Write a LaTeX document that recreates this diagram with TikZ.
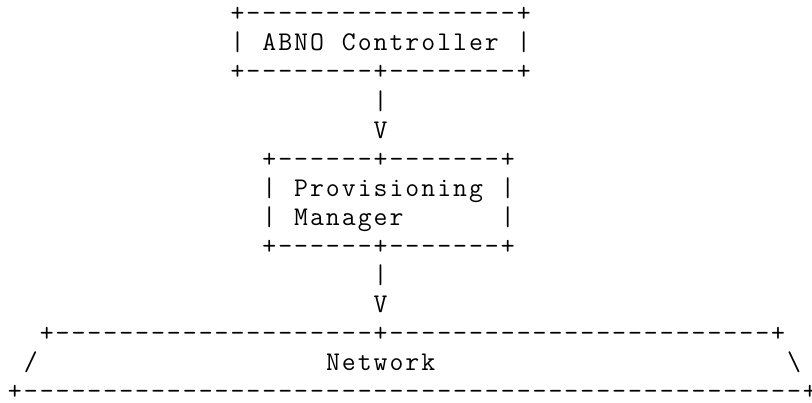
\documentclass[tikz,border=0pt]{standalone}
\usepackage{fontspec}
\makeatletter
\newcommand\ascrow[1]{\@tfor\asc@ch:=#1\do{\hbox to 15.9pt{\hss\asc@ch\hss}}}
\makeatother
\newcommand\ascpos[2]{({(7+#1*15.9)*1pt},{(381.2-#2*29.08)*1pt})}
\tikzset{
  asc/.style={inner sep=0pt, outer sep=0pt, anchor=base west, text=black,
    font=\ttfamily\fontsize{27pt}{29pt}\selectfont}
}
\begin{document}
\begin{tikzpicture}
\useasboundingbox (0pt,0pt) rectangle (812pt,403pt);
% ABNO Controller box
\node[asc] (abnoTop)    at \ascpos{14}{0} {\ascrow{+-----------------+}};
\node[asc] (abnoL)      at \ascpos{14}{1} {\ascrow{|}};
\node[asc] (abnoTextA)  at \ascpos{16}{1} {\ascrow{ABNO}};
\node[asc] (abnoTextB)  at \ascpos{21}{1} {\ascrow{Controller}};
\node[asc] (abnoR)      at \ascpos{32}{1} {\ascrow{|}};
\node[asc] (abnoBottom) at \ascpos{14}{2} {\ascrow{+--------+--------+}};
% arrow 1
\node[asc] (arrowOneBar)  at \ascpos{23}{3} {\ascrow{|}};
\node[asc] (arrowOneHead) at \ascpos{23}{4} {\ascrow{V}};
% Provisioning Manager box
\node[asc] (pmTop)      at \ascpos{16}{5} {\ascrow{+------+-------+}};
\node[asc] (pmLA)       at \ascpos{16}{6} {\ascrow{|}};
\node[asc] (pmTextA)    at \ascpos{18}{6} {\ascrow{Provisioning}};
\node[asc] (pmRA)       at \ascpos{31}{6} {\ascrow{|}};
\node[asc] (pmLB)       at \ascpos{16}{7} {\ascrow{|}};
\node[asc] (pmTextB)    at \ascpos{18}{7} {\ascrow{Manager}};
\node[asc] (pmRB)       at \ascpos{31}{7} {\ascrow{|}};
\node[asc] (pmBottom)   at \ascpos{16}{8} {\ascrow{+------+-------+}};
% arrow 2
\node[asc] (arrowTwoBar)  at \ascpos{23}{9} {\ascrow{|}};
\node[asc] (arrowTwoHead) at \ascpos{23}{10} {\ascrow{V}};
% Network
\node[asc] (netTop)     at \ascpos{2}{11} {\ascrow{+--------------------+------------------------+}};
\node[asc] (netLeft)    at \ascpos{1}{12} {\ascrow{/}};
\node[asc] (netText)    at \ascpos{20}{12} {\ascrow{Network}};
\node[asc] (netRight)   at \ascpos{49}{12} {\ascrow{\textbackslash}};
\node[asc] (netBottom)  at \ascpos{0}{13} {\ascrow{+-------------------------------------------------+}};
\end{tikzpicture}
\end{document}
